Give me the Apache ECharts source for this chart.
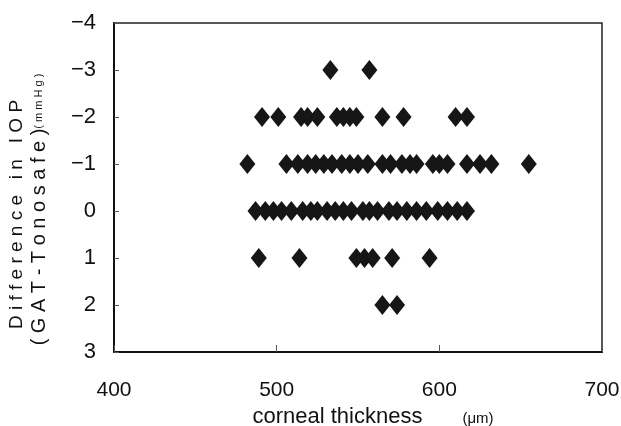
<!DOCTYPE html>
<html>
<head>
<meta charset="utf-8">
<script src="https://cdn.jsdelivr.net/npm/echarts@6/dist/echarts.min.js"></script>
<style>
html, body { margin: 0; padding: 0; background: #fff; }
#chart { width: 621px; height: 426px; }
</style>
</head>
<body>
<div id="chart"></div>
<script>
// corneal thickness (um) of the points, one list per IOP difference level
var thickDiffM3 = [533, 557];
var thickDiffM2 = [491, 501, 515, 519, 525, 537, 541, 545, 549, 565, 578, 610, 617];
var thickDiffM1 = [482, 506, 513, 519, 524, 529, 534, 540, 545, 550, 556, 565, 570,
                   577, 582, 586, 596, 600, 605, 617, 625, 632, 655];
var thickDiff0 = [487, 493, 498, 503, 509, 516, 521, 525, 531, 536, 541, 546, 553,
                  557, 562, 569, 574, 580, 586, 592, 599, 605, 611, 617];
var thickDiff1 = [489, 514, 549, 554, 559, 571, 594];
var thickDiff2 = [565, 574];

var diffLevels = [-3, -2, -1, 0, 1, 2];
var thickRows = [thickDiffM3, thickDiffM2, thickDiffM1, thickDiff0, thickDiff1, thickDiff2];

var pts = [];
for (var i = 0; i < diffLevels.length; i++) {
	for (var j = 0; j < thickRows[i].length; j++) {
		pts.push([thickRows[i][j], diffLevels[i]]);
	}
}

var font = "'Liberation Sans Narrow', 'Liberation Sans', sans-serif";
var echart = echarts.init(document.getElementById('chart'));
echart.setOption({
	animation : false,
	backgroundColor : '#fff',
	grid : {
		left : 114,
		right : 19,
		top : 23,
		bottom : 74,
		outerBoundsMode : 'none',
		containLabel : false,
		show : true,
		borderColor : '#222',
		borderWidth : 1.5
	},
	xAxis : {
		type : 'value',
		min : 400,
		max : 700,
		interval : 100,
		name : 'corneal thickness{u|(\u03bcm)}',
		nameLocation : 'middle',
		nameGap : 46,
		nameTextStyle : {
			color : '#111',
			fontFamily : font,
			fontSize : 22,
			padding : [0, 0, 0, 30],
			rich : {
				u : { fontSize : 15, fontFamily : font, color : '#111', padding : [4, 0, 0, 40] }
			}
		},
		axisLine : { onZero : false, lineStyle : { color : '#111', width : 2 } },
		axisTick : { show : true, inside : true, length : 7, lineStyle : { color : '#555', width : 1 } },
		splitLine : { show : false },
		axisLabel : { color : '#111', fontFamily : font, fontSize : 21, margin : 28 }
	},
	yAxis : {
		type : 'value',
		min : -4,
		max : 3,
		interval : 1,
		inverse : true,
		name : '{a|D i f f e r e n c e   i n   I O P}\n{b|( G A T - T o n o s a f e )}{c|( m m H g )}',
		nameLocation : 'middle',
		nameRotate : 90,
		nameGap : 64,
		nameTextStyle : {
			color : '#111',
			rich : {
				a : { fontFamily : font, fontSize : 19, color : '#111', lineHeight : 22, padding : [0, 54, 0, 0] },
				b : { fontFamily : font, fontSize : 20, color : '#111', lineHeight : 22 },
				c : { fontFamily : font, fontSize : 11, color : '#111', lineHeight : 22, padding : [0, 44, 0, 0] }
			}
		},
		axisLine : { onZero : false, lineStyle : { color : '#111', width : 2 } },
		axisTick : { show : true, inside : true, length : 5, lineStyle : { color : '#555', width : 1 } },
		splitLine : { show : false },
		axisLabel : {
			color : '#111',
			fontFamily : font,
			fontSize : 22,
			margin : 18,
			formatter : function(v) { return String(v).replace('-', '\u2212'); }
		}
	},
	series : [{
		type : 'scatter',
		symbol : 'diamond',
		symbolSize : [16, 20],
		itemStyle : { color : '#161616', opacity : 1 },
		data : pts
	}]
});
</script>
</body>
</html>
